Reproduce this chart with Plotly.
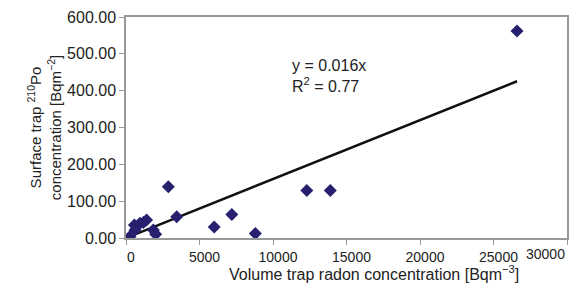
import plotly.graph_objects as go

# Data
volume_radon = [270, 570, 610, 950, 1180, 1400, 1860, 2020, 2880, 3450,
                6000, 7200, 8800, 12300, 13900, 26600]
surface_po = [4, 35, 22, 40, 42, 49, 22, 10, 139, 58,
              30, 64, 12, 129, 129, 562]
slope = 0.016
r_squared = 0.77
x_ticks = [0, 5000, 10000, 15000, 20000, 25000, 30000]
y_ticks = [0, 100, 200, 300, 400, 500, 600]

fit_x = [0, max(volume_radon)]
fit_y = [slope * v for v in fit_x]

FONT = "Liberation Sans, Arial, sans-serif"
W, H = 580, 293
ML, MR, MT, MB = 126, 13, 17, 55
pw, ph = W - ML - MR, H - MT - MB

fig = go.Figure()
fig.add_trace(go.Scatter(
    x=fit_x, y=fit_y, mode="lines",
    line=dict(color="#111111", width=2.5), showlegend=False))
fig.add_trace(go.Scatter(
    x=volume_radon, y=surface_po, mode="markers",
    marker=dict(symbol="diamond", size=10, color="#27206f"),
    showlegend=False))

fig.add_annotation(
    x=11150, y=441, xanchor="left", yanchor="middle", showarrow=False,
    text=f"y = {slope}x<br>R<sup>2</sup> = {r_squared}", align="left",
    font=dict(family=FONT, size=16, color="#222"))

# last x tick label placed so it stays inside the canvas (as in reference)
fig.add_annotation(
    x=x_ticks[-1], y=0, xref="x", yref="paper", xanchor="right", yanchor="top",
    yshift=-6, showarrow=False, text=str(x_ticks[-1]),
    font=dict(family=FONT, size=14, color="#222"))

# x-axis title (placed as in the reference)
fig.add_annotation(
    x=(374 - ML) / pw, y=(H - MB - 273) / ph, xref="paper", yref="paper",
    xanchor="center", yanchor="middle", showarrow=False,
    text="Volume trap radon concentration [Bqm<sup>−3</sup>]",
    font=dict(family=FONT, size=16, color="#222"))

fig.update_layout(
    width=W, height=H,
    margin=dict(l=ML, r=MR, t=MT, b=MB, autoexpand=False),
    plot_bgcolor="white", paper_bgcolor="white",
    font=dict(family=FONT, color="#222"),
)

fig.update_xaxes(
    range=[0, 30000], tickvals=x_ticks,
    ticktext=[str(v) for v in x_ticks[:-1]] + [""],
    automargin=False, ticklabelshift=5,
    showgrid=False, zeroline=False, showline=True, mirror=True,
    linecolor="#999999", linewidth=1.5, ticks="outside", ticklen=5,
    tickcolor="#999999", tickfont=dict(size=14))
fig.update_yaxes(
    range=[0, 600], tickvals=y_ticks, tickformat=".2f",
    automargin=False,
    showgrid=False, zeroline=False, showline=True, mirror=True,
    linecolor="#999999", linewidth=1.5, ticks="outside", ticklen=5,
    tickcolor="#999999", tickfont=dict(size=16),
    title=dict(text="Surface trap <sup>210</sup>Po<br>concentration [Bqm<sup>−2</sup>]",
               font=dict(size=15), standoff=2))

fig.write_html("out.html", config={"displayModeBar": False},
               post_script="document.body.style.margin='0px';")
